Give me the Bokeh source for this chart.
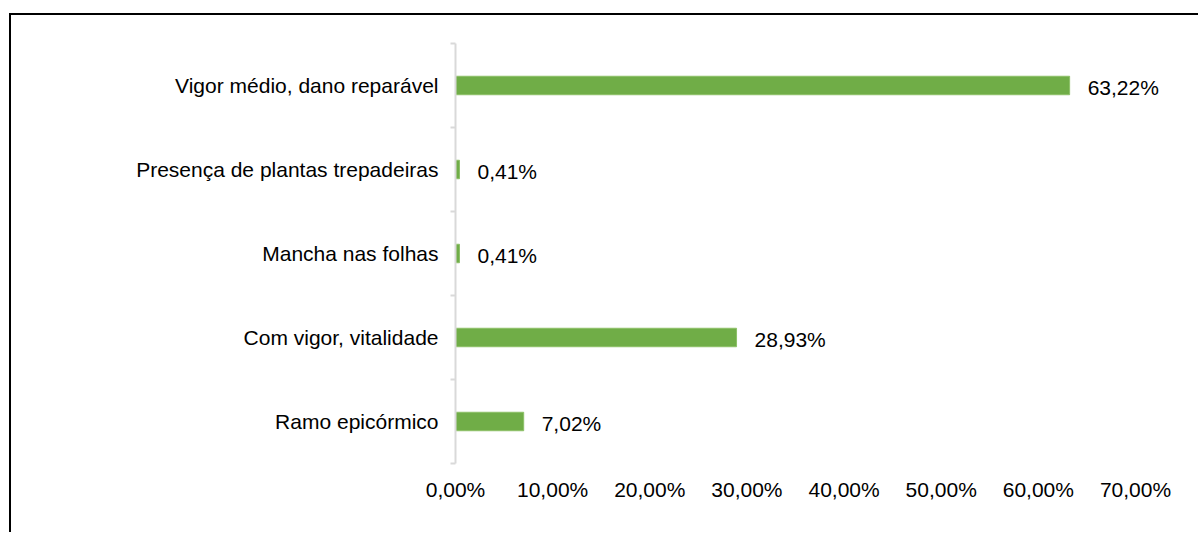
import numpy as np
from bokeh.plotting import figure
from bokeh.models import FixedTicker, ColumnDataSource, Range1d
from bokeh.core.properties import value
from bokeh.embed import file_html
from bokeh.resources import INLINE

# Data (bottom to top)
categories = ["Ramo epicórmico", "Com vigor, vitalidade", "Mancha nas folhas",
              "Presença de plantas trepadeiras", "Vigor médio, dano reparável"]
values = [7.02, 28.93, 0.41, 0.41, 63.22]
x_ticks = [0, 10, 20, 30, 40, 50, 60, 70]

FONT = "Liberation Sans"
FS = "21px"

def pct(v):
    return f"{v:.2f}%".replace(".", ",")

centers = np.arange(len(categories)) + 0.5
bounds = list(np.arange(len(categories) + 1).astype(float))

src = ColumnDataSource(dict(y=centers, v=values, lab=[pct(v) for v in values]))

# layout geometry (pixels)
W, H = 1189, 519
LEFT, TOP, BOTTOM = 444, 28, 71
AXIS_PX = 680            # pixel length from 0% to 70%
RIGHT = 5                # frame extends past 70% so value labels are not clipped
frame_w = W - LEFT - RIGHT
x_end = x_ticks[-1] * frame_w / AXIS_PX

p = figure(width=W, height=H, output_backend="svg", toolbar_location=None,
           x_range=Range1d(0, x_end), y_range=Range1d(0, len(categories)),
           min_border_left=LEFT, min_border_right=RIGHT, min_border_top=TOP,
           min_border_bottom=BOTTOM,
           margin=(13, 0, 0, 9),
           styles={"border-left": "2px solid #000000", "border-top": "2px solid #000000"})
p.outline_line_color = None
p.xgrid.visible = False
p.ygrid.visible = False

p.hbar(y="y", left=0, right="v", height=0.22, source=src,
       fill_color="#70ad47", line_color="#8cc067", line_width=1)
p.text(x="v", y="y", text="lab", source=src, x_offset=18, y_offset=2,
       text_baseline="middle", text_align="left",
       text_font=value(FONT), text_font_size=value(FS), text_color="#000000")

# x axis
xa = p.xaxis[0]
xa.ticker = FixedTicker(ticks=x_ticks)
xa.major_label_overrides = {t: pct(t) for t in x_ticks}
xa.axis_line_color = None
xa.major_tick_line_color = None
xa.minor_tick_line_color = None
xa.major_label_standoff = 8
xa.major_label_text_font = FONT
xa.major_label_text_font_size = FS
xa.major_label_text_color = "#000000"

# y axis
ya = p.yaxis[0]
ya.ticker = FixedTicker(ticks=list(centers), minor_ticks=bounds)
ya.major_label_overrides = {float(c): n for c, n in zip(centers, categories)}
ya.axis_line_color = "#d9d9d9"
ya.axis_line_width = 2
ya.major_tick_line_color = None
ya.minor_tick_line_color = "#d9d9d9"
ya.minor_tick_line_width = 2
ya.minor_tick_out = 5
ya.minor_tick_in = 0
ya.major_tick_out = 5
ya.major_tick_in = 0
ya.major_label_standoff = 12
ya.major_label_text_font = FONT
ya.major_label_text_font_size = FS
ya.major_label_text_color = "#000000"

open("out.html", "w").write(file_html(p, INLINE))
